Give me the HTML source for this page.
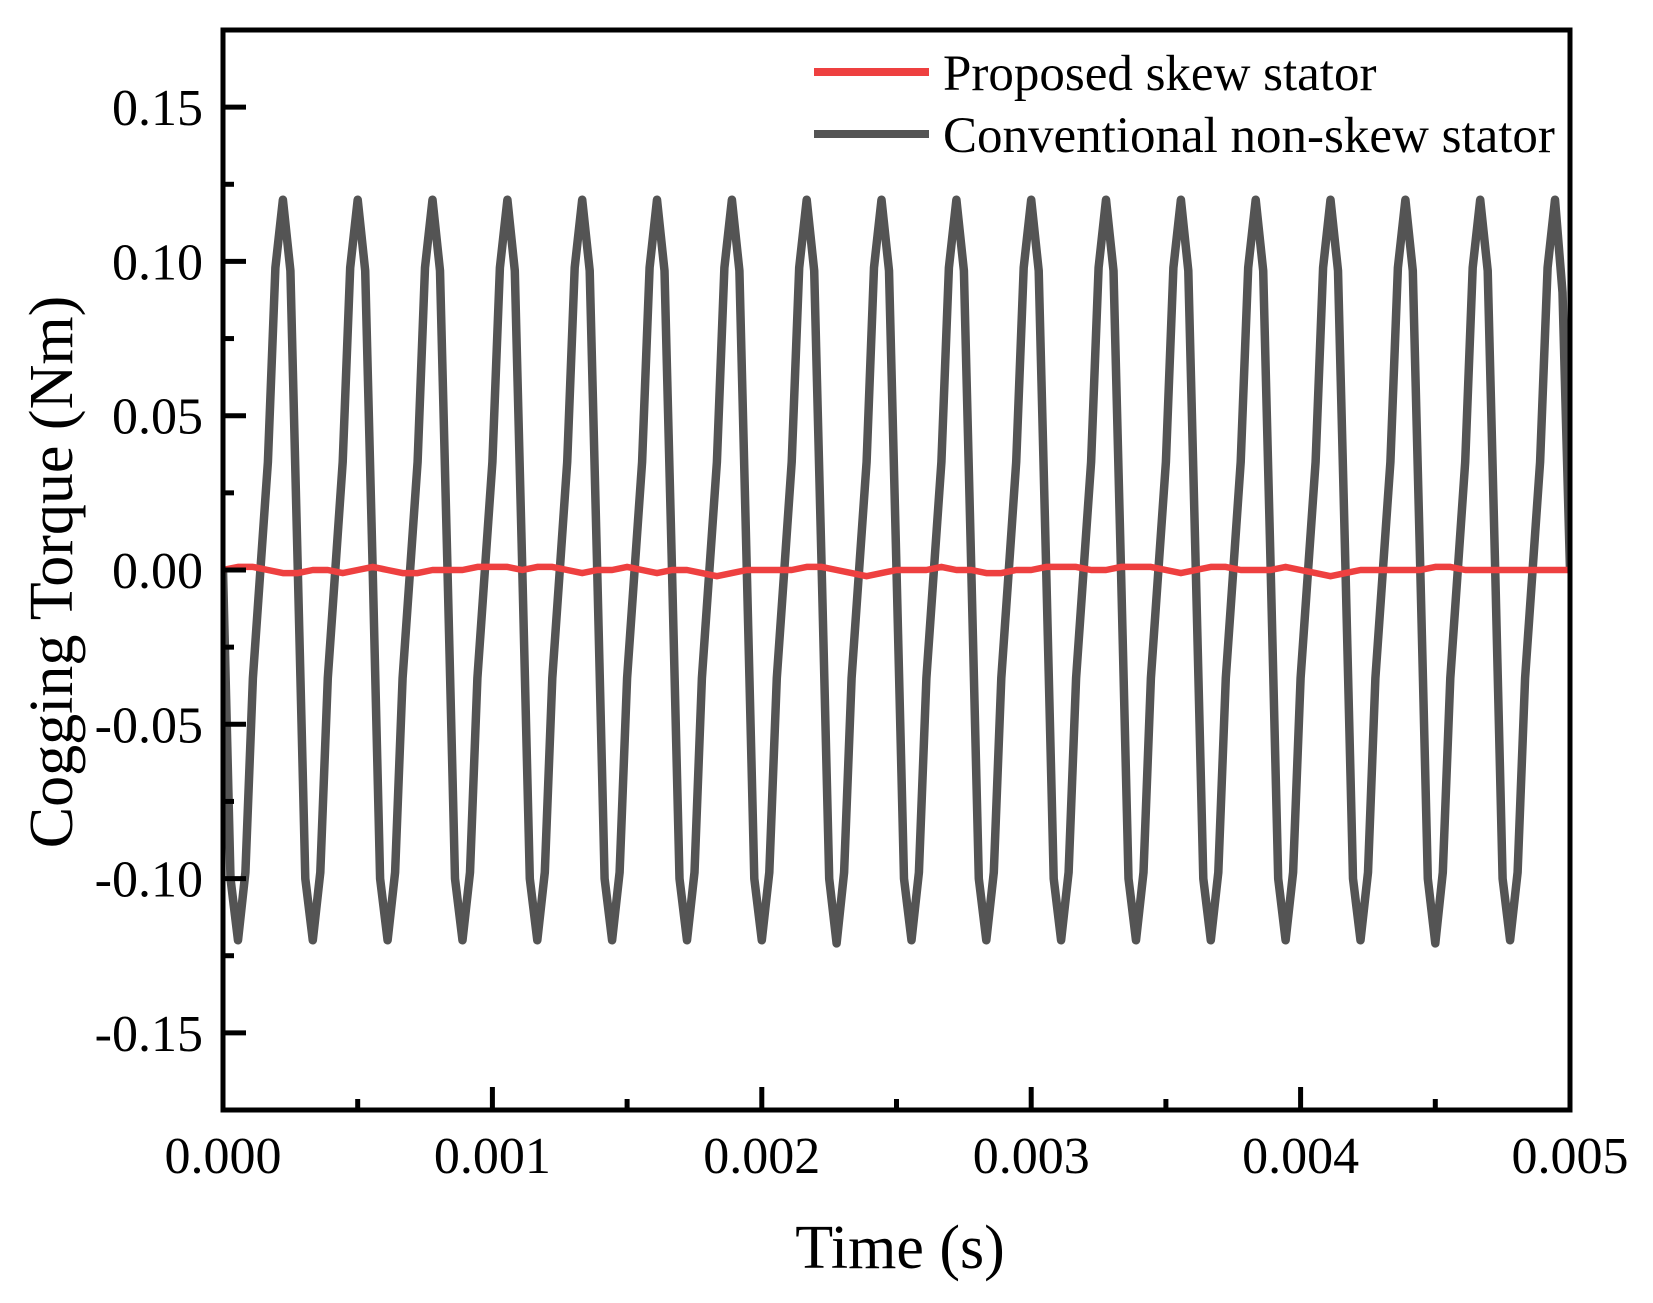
<!DOCTYPE html>
<html><head><meta charset="utf-8"><style>
html,body{margin:0;padding:0;background:#fff;}
svg{display:block;font-family:"Liberation Serif",serif;}
</style></head><body>
<svg id="chart" width="1653" height="1303" viewBox="0 0 1653 1303">
<g id="marks"></g>
<g id="axes"></g>
<g>
<line x1="814" y1="72" x2="929" y2="72" stroke="#ee4040" stroke-width="8"/>
<text x="943" y="90" font-size="51">Proposed skew stator</text>
<line x1="814" y1="134" x2="929" y2="134" stroke="#545454" stroke-width="8"/>
<text x="943" y="152" font-size="51">Conventional non-skew stator</text>
</g>
<text x="900" y="1268" font-size="62" text-anchor="middle">Time (s)</text>
<text transform="translate(72,572) rotate(-90)" font-size="62" text-anchor="middle">Cogging Torque (Nm)</text>
</svg>
<script>
const xTicks=[0,0.001,0.002,0.003,0.004,0.005];
const xTickLabels=["0.000","0.001","0.002","0.003","0.004","0.005"];
const yTicks=[-0.15,-0.10,-0.05,0,0.05,0.10,0.15];
const yTickLabels=["-0.15","-0.10","-0.05","0.00","0.05","0.10","0.15"];
const tStep=0.005/180;
const conventional=[
0.000,-0.100,-0.120,-0.098,-0.035,0.000,0.035,0.098,0.120,0.097,
0.000,-0.100,-0.120,-0.098,-0.035,0.000,0.035,0.098,0.120,0.097,
0.000,-0.100,-0.120,-0.098,-0.035,0.000,0.035,0.098,0.120,0.097,
0.000,-0.100,-0.120,-0.098,-0.035,0.000,0.035,0.098,0.120,0.097,
0.000,-0.100,-0.120,-0.098,-0.035,0.000,0.035,0.098,0.120,0.097,
0.000,-0.100,-0.120,-0.098,-0.035,0.000,0.035,0.098,0.120,0.097,
0.000,-0.100,-0.120,-0.098,-0.035,0.000,0.035,0.098,0.120,0.097,
0.000,-0.100,-0.120,-0.098,-0.035,0.000,0.035,0.098,0.120,0.097,
0.000,-0.100,-0.121,-0.098,-0.035,0.000,0.035,0.098,0.120,0.097,
0.000,-0.100,-0.120,-0.098,-0.035,0.000,0.035,0.098,0.120,0.097,
0.000,-0.100,-0.120,-0.098,-0.035,0.000,0.035,0.098,0.120,0.097,
0.000,-0.100,-0.120,-0.098,-0.035,0.000,0.035,0.098,0.120,0.097,
0.000,-0.100,-0.120,-0.098,-0.035,0.000,0.035,0.098,0.120,0.097,
0.000,-0.100,-0.120,-0.098,-0.035,0.000,0.035,0.098,0.120,0.097,
0.000,-0.100,-0.120,-0.098,-0.035,0.000,0.035,0.098,0.120,0.097,
0.000,-0.100,-0.120,-0.098,-0.035,0.000,0.035,0.098,0.120,0.097,
0.000,-0.100,-0.121,-0.098,-0.035,0.000,0.035,0.098,0.120,0.097,
0.000,-0.100,-0.120,-0.098,-0.035,0.000,0.035,0.098,0.120,0.090,
0.000];
const proposedStep=0.005/90;
const proposed=[
0.000,0.001,0.001,0.000,-0.001,-0.001,0.000,0.000,-0.001,0.000,
0.001,0.000,-0.001,-0.001,0.000,0.000,0.000,0.001,0.001,0.001,
0.000,0.001,0.001,0.000,-0.001,0.000,0.000,0.001,0.000,-0.001,
0.000,0.000,-0.001,-0.002,-0.001,0.000,0.000,0.000,0.000,0.001,
0.001,0.000,-0.001,-0.002,-0.001,0.000,0.000,0.000,0.001,0.000,
0.000,-0.001,-0.001,0.000,0.000,0.001,0.001,0.001,0.000,0.000,
0.001,0.001,0.001,0.000,-0.001,0.000,0.001,0.001,0.000,0.000,
0.000,0.001,0.000,-0.001,-0.002,-0.001,0.000,0.000,0.000,0.000,
0.000,0.001,0.001,0.000,0.000,0.000,0.000,0.000,0.000,0.000,0.000];
const L=223,R=1570,T=30,B=1110,X0=0,X1=0.005,Y0=-0.175,Y1=0.175;
const xs=v=>L+(v-X0)/(X1-X0)*(R-L);
const ys=v=>B-(v-Y0)/(Y1-Y0)*(B-T);
const NS="http://www.w3.org/2000/svg";
function mk(tag,attrs,parent){const e=document.createElementNS(NS,tag);for(const k in attrs)e.setAttribute(k,attrs[k]);parent.appendChild(e);return e;}
const marks=document.getElementById('marks'),axes=document.getElementById('axes');
const clip=mk('clipPath',{id:'pc'},marks);mk('rect',{x:L,y:T,width:R-L,height:B-T},clip);
let d=conventional.map((v,i)=>(i?'L':'M')+xs(i*tStep).toFixed(1)+' '+ys(v).toFixed(1)).join(' ');
const p1=mk('path',{d:d,fill:'none',stroke:'#545454','stroke-width':8.5,'stroke-linejoin':'round','clip-path':'url(#pc)'},marks);


d=proposed.map((v,i)=>(i?'L':'M')+xs(i*proposedStep).toFixed(1)+' '+ys(v).toFixed(1)).join(' ');
const p2=mk('path',{d:d,fill:'none',stroke:'#ee4040','stroke-width':6.5,'stroke-linejoin':'round','clip-path':'url(#pc)'},marks);


const fr=mk('rect',{x:L,y:T,width:R-L,height:B-T,fill:'none',stroke:'#000','stroke-width':5},axes);


yTicks.forEach((v,i)=>{
 const y=ys(v);
 mk('line',{x1:L,y1:y,x2:L+23,y2:y,stroke:'#000','stroke-width':5},axes);
 const t=mk('text',{x:203,y:y+18,'font-size':52,'text-anchor':'end'},axes);t.textContent=yTickLabels[i];
 
 
 if(i<yTicks.length-1){const m=ys((v+yTicks[i+1])/2);mk('line',{x1:L,y1:m,x2:L+11,y2:m,stroke:'#000','stroke-width':5},axes);}
});
mk('line',{x1:L,y1:ys(0.175),x2:L+11,y2:ys(0.175),stroke:'#000','stroke-width':5},axes);
mk('line',{x1:L,y1:ys(-0.175),x2:L+11,y2:ys(-0.175),stroke:'#000','stroke-width':5},axes);
xTicks.forEach((v,i)=>{
 const x=xs(v);
 mk('line',{x1:x,y1:B,x2:x,y2:B-23,stroke:'#000','stroke-width':5},axes);
 const t=mk('text',{x:x,y:1173,'font-size':52,'text-anchor':'middle'},axes);t.textContent=xTickLabels[i];
 
 
 if(i<xTicks.length-1){const m=xs((v+xTicks[i+1])/2);mk('line',{x1:m,y1:B,x2:m,y2:B-11,stroke:'#000','stroke-width':5},axes);}
});
</script>
</body></html>
